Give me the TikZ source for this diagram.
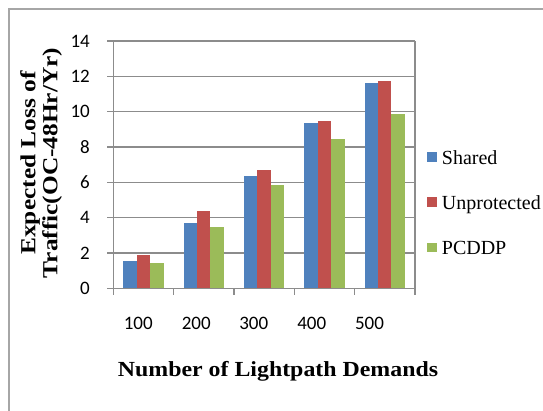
\documentclass[tikz,border=0pt]{standalone}
\usepackage{fontspec}
\setmainfont{Liberation Serif}
\newfontfamily\tickfont{Carlito}
\definecolor{serA}{HTML}{4F81BD}
\definecolor{serB}{HTML}{C0504D}
\definecolor{serC}{HTML}{9BBB59}
\definecolor{gridc}{HTML}{8C8C8C}
\definecolor{framec}{HTML}{A6A6A6}

\begin{document}
\begin{tikzpicture}[x=1pt,y=-1pt,
  gridline/.style={draw=gridc,line width=1.4pt},
  axisline/.style={draw=gridc,line width=1.4pt},
  ticklab/.style={inner sep=0pt,font=\tickfont\fontsize{19}{19}\selectfont},
  titlelab/.style={inner sep=0pt,font=\bfseries\fontsize{21.5}{22}\selectfont},
  keylab/.style={inner sep=0pt,anchor=base west,font=\fontsize{20}{20}\selectfont},
  keybox/.style={minimum size=9.5pt,inner sep=0pt,anchor=center}
]
\useasboundingbox (0,0) rectangle (543,411);

% chart frame (continues past the right and bottom edges)
\draw[framec,line width=1.5pt] (9,430) |- (560,9);

% value scale: y = 288.3 - 17.65*v
\def\base{288.3}
\def\unit{17.65}

% horizontal gridlines with their tick stubs
\foreach \v in {2,4,...,14}
  \draw[gridline] (107.3,{\base-\unit*\v}) -- (415,{\base-\unit*\v});

% bars: Shared, Unprotected, PCDDP for each demand count
\foreach \i/\a/\b/\c in {0/1.55/1.9/1.42, 1/3.68/4.4/3.46, 2/6.38/6.72/5.84,
                         3/9.38/9.46/8.48, 4/11.61/11.76/9.89} {
  \fill[serA] ({123.3+60.34*\i},\base) rectangle ++(13.4,{-\unit*\a});
  \fill[serB] ({136.7+60.34*\i},\base) rectangle ++(13.4,{-\unit*\b});
  \fill[serC] ({150.1+60.34*\i},\base) rectangle ++(13.4,{-\unit*\c});
}

% axes and category ticks
\draw[axisline] (107.3,\base) -- (415,\base);
\draw[axisline] (113.3,{\base-\unit*14}) -- (113.3,295);
\draw[axisline] (415,{\base-\unit*14}) -- (415,295);
\foreach \i in {1,...,4}
  \draw[axisline] ({113.3+60.34*\i},\base) -- ++(0,6.7);

% value labels
\foreach \v in {0,2,...,14}
  \node[ticklab,anchor=east] (yl\v) at (90,{\base-\unit*\v}) {\v};

% category labels
\foreach \x/\t in {138.3/100,196.2/200,253.8/300,311.8/400,369.5/500}
  \node[ticklab,anchor=base] (xl\t) at (\x,329.3) {\t};

% axis titles
\node[titlelab,anchor=base] (xtitle) at (278,376)
  {\scalebox{1.11}[1]{Number of Lightpath Demands}};
\node[titlelab,rotate=90,align=center] (ytitle) at (41,163)
  {\scalebox{1.18}[1]{Expected Loss of}\\\scalebox{1.18}[1]{Traffic(OC-48Hr/Yr)}};

% legend
\node[keybox,fill=serA] (kA) at (432.2,157) {};
\node[keybox,fill=serB] (kB) at (432.2,202.2) {};
\node[keybox,fill=serC] (kC) at (432.2,247.5) {};
\node[keylab] (tA) at (441.7,165) {Shared};
\node[keylab] (tB) at (441.7,210) {Unprotected};
\node[keylab] (tC) at (441.7,254.5) {PCDDP};
\end{tikzpicture}
\end{document}
